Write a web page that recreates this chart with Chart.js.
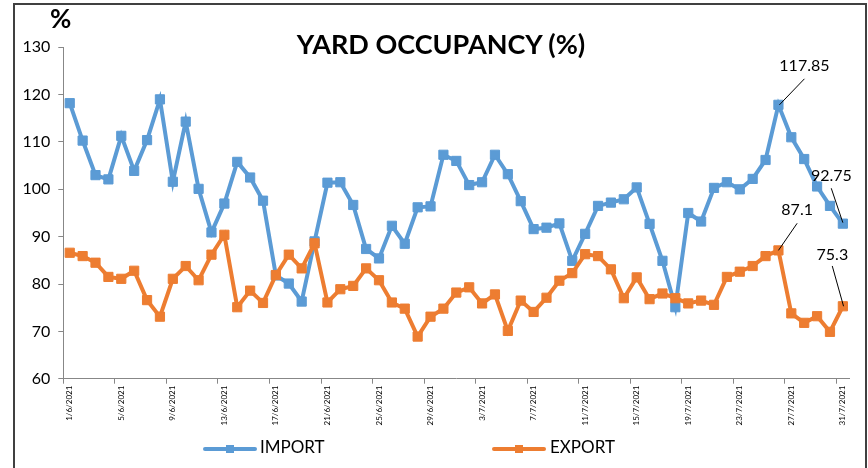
<!DOCTYPE html>
<html><head><meta charset="utf-8">
<script src="https://cdn.jsdelivr.net/npm/chart.js@4/dist/chart.umd.min.js"></script>
<style>
html,body{margin:0;padding:0;background:#fff;}
#wrap{position:relative;width:868px;height:468px;overflow:hidden;background:#fff;}
#frame{position:absolute;left:13px;top:3px;width:854px;height:480px;border:2px solid #404040;box-sizing:border-box;}
canvas{position:absolute;left:0;top:0;}
#pct{position:absolute;left:50px;top:2px;font:bold 26px Lato, sans-serif;color:#000;}
#title{position:absolute;left:0;width:882px;text-align:center;top:27px;font:bold 27px Lato, sans-serif;color:#000;}
.legtxt{position:absolute;top:437px;font:17px Lato, sans-serif;color:#000;line-height:20px;}
.legline{position:absolute;top:447px;width:54px;height:4px;border-radius:2px;}
.legsq{position:absolute;top:445px;width:8px;height:8px;}
</style>
</head><body>
<div id="wrap">
<div id="frame"></div>
<canvas id="c" width="868" height="468"></canvas>
<div id="pct">%</div>
<div id="title">YARD OCCUPANCY (%)</div>
<div class="legline" style="left:203px;background:#5B9BD5"></div>
<div class="legsq" style="left:226px;background:#5B9BD5"></div>
<div class="legtxt" style="left:260px">IMPORT</div>
<div class="legline" style="left:492px;background:#ED7D31"></div>
<div class="legsq" style="left:515px;background:#ED7D31"></div>
<div class="legtxt" style="left:550px">EXPORT</div>
</div>
<script>
const dates = [];
for (let d = 1; d <= 30; d++) dates.push(d + "/6/2021");
for (let d = 1; d <= 31; d++) dates.push(d + "/7/2021");

const importValues = [
  118.2, 110.3, 103.0, 102.1, 111.3, 103.9, 110.4, 119.0, 101.6, 114.3,
  100.1, 90.9, 97.0, 105.8, 102.5, 97.6, 81.8, 80.1, 76.3, 89.0,
  101.4, 101.5, 96.7, 87.4, 85.4, 92.3, 88.5, 96.2, 96.4, 107.3,
  106.0, 100.9, 101.5, 107.3, 103.2, 97.5, 91.6, 91.9, 92.8, 84.9,
  90.6, 96.5, 97.2, 97.9, 100.4, 92.7, 84.9, 75.1, 95.0, 93.2,
  100.3, 101.5, 100.0, 102.2, 106.2, 117.85, 111.0, 106.4, 100.6, 96.5,
  92.75
];
const exportValues = [
  86.6, 85.9, 84.5, 81.5, 81.1, 82.8, 76.6, 73.1, 81.1, 83.8,
  80.8, 86.2, 90.4, 75.1, 78.6, 76.0, 81.9, 86.2, 83.3, 88.6,
  76.1, 78.9, 79.6, 83.3, 80.8, 76.1, 74.8, 68.9, 73.1, 74.8,
  78.2, 79.3, 75.9, 77.8, 70.1, 76.5, 74.1, 77.1, 80.7, 82.3,
  86.3, 85.9, 83.1, 77.0, 81.4, 76.8, 78.0, 77.0, 75.9, 76.5,
  75.6, 81.5, 82.6, 83.8, 85.9, 87.1, 73.8, 71.8, 73.2, 69.9,
  75.3
];
const yTicks = [60, 70, 80, 90, 100, 110, 120, 130];
const annotations = [
  {series: 0, index: 55, text: "117.85", tx: 26, ty: -39, lx: 26, ly: -26, ex: 1, ey: 0},
  {series: 0, index: 60, text: "92.75", tx: -11.5, ty: -47.5, lx: -11.6, ly: -35.4, ex: 0, ey: -1},
  {series: 1, index: 55, text: "87.1", tx: 18.7, ty: -40.7, lx: 18.7, ly: -27.1, ex: 0, ey: 0},
  {series: 1, index: 60, text: "75.3", tx: -10.5, ty: -51.3, lx: -10.6, ly: -40.3, ex: 0.7, ey: 0}
];

const BLUE = "#5B9BD5", ORANGE = "#ED7D31", AXIS = "#878787";

const annotationPlugin = {
  id: "pointLabels",
  afterDatasetsDraw(chart) {
    const ctx = chart.ctx;
    const xs = chart.scales.x, ys = chart.scales.y;
    const series = [importValues, exportValues];
    ctx.save();
    annotations.forEach(a => {
      const px = xs.getPixelForValue(a.index);
      const py = ys.getPixelForValue(series[a.series][a.index]);
      ctx.strokeStyle = "#000";
      ctx.lineWidth = 1;
      ctx.beginPath();
      ctx.moveTo(px + a.lx, py + a.ly);
      ctx.lineTo(px + a.ex, py + a.ey);
      ctx.stroke();
      ctx.fillStyle = "#000";
      ctx.font = "16px Lato, sans-serif";
      ctx.textAlign = "center";
      ctx.textBaseline = "middle";
      ctx.fillText(a.text, px + a.tx, py + a.ty);
    });
    ctx.restore();
  }
};

new Chart(document.getElementById("c"), {
  type: "line",
  data: {
    labels: dates,
    datasets: [
      {label: "IMPORT", data: importValues, borderColor: BLUE, backgroundColor: BLUE,
       pointBackgroundColor: BLUE, pointBorderColor: BLUE, borderWidth: 4, pointStyle: "rect",
       pointRadius: 6.5, pointBorderWidth: 1, tension: 0, order: 1},
      {label: "EXPORT", data: exportValues, borderColor: ORANGE, backgroundColor: ORANGE,
       pointBackgroundColor: ORANGE, pointBorderColor: ORANGE, borderWidth: 4, pointStyle: "rect",
       pointRadius: 6.5, pointBorderWidth: 1, tension: 0, order: 0}
    ]
  },
  options: {
    responsive: false,
    animation: false,
    devicePixelRatio: 1,
    layout: {padding: {left: 0, right: 18.7, top: 47.3, bottom: 29.3}},
    plugins: {legend: {display: false}, title: {display: false}, tooltip: {enabled: false}},
    events: [],
    scales: {
      x: {
        type: "category",
        offset: true,
        grid: {
          offset: true,
          drawOnChartArea: false,
          drawTicks: true,
          tickLength: 5,
          color: c => (c.index !== undefined && c.index % 4 === 0) ? AXIS : "rgba(0,0,0,0)"
        },
        border: {display: true, color: AXIS, width: 1},
        ticks: {
          autoSkip: false, minRotation: 90, maxRotation: 90, padding: 2,
          color: "#000", font: {family: "Lato", size: 8},
          callback: function (v, i) { return i % 4 === 0 ? this.getLabelForValue(v) : ""; }
        },
        afterFit: s => { s.height = 60; }
      },
      y: {
        min: 60, max: 130,
        afterBuildTicks: s => { s.ticks = yTicks.map(v => ({value: v})); },
        grid: {drawOnChartArea: false, drawTicks: true, tickLength: 5, color: AXIS},
        border: {display: true, color: AXIS, width: 1},
        ticks: {padding: 8, color: "#000", font: {family: "Lato", size: 16}},
        afterFit: s => { s.width = 63.3; }
      }
    }
  },
  plugins: [annotationPlugin]
});
</script>
</body></html>
